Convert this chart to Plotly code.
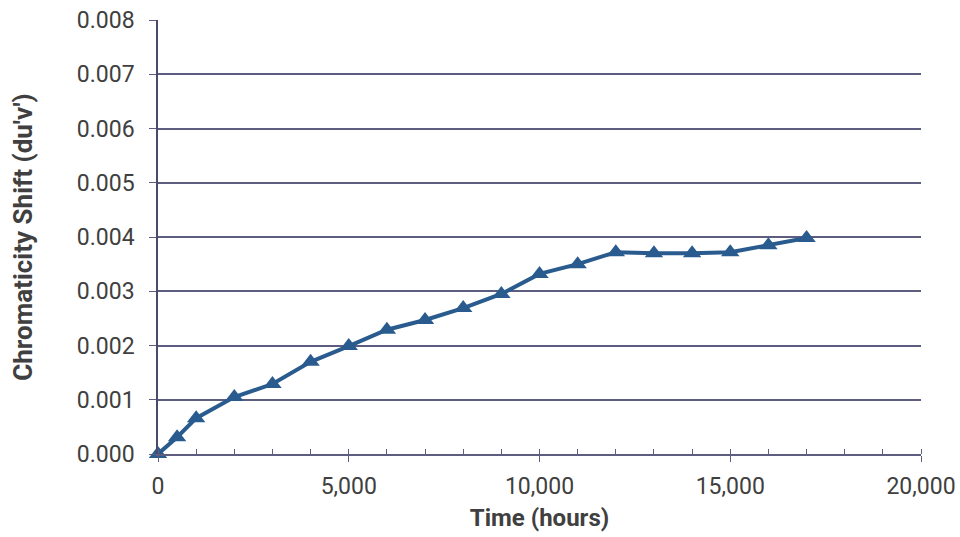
import plotly.graph_objects as go

time_hours = [0, 500, 1000, 2000, 3000, 4000, 5000, 6000, 7000, 8000, 9000,
              10000, 11000, 12000, 13000, 14000, 15000, 16000, 17000]
chroma_shift = [0.0, 0.00031, 0.00066, 0.00105, 0.00129, 0.00170, 0.00199,
                0.00229, 0.00247, 0.00269, 0.00295, 0.00332, 0.00350,
                0.00372, 0.00370, 0.00370, 0.00372, 0.00385, 0.00398]

x_title = "Time (hours)"
y_title = "Chromaticity Shift (du'v')"

line_color = "#2a5b8e"
grid_color = "#5d5d80"
text_color = "#404040"

fig = go.Figure()
fig.add_trace(go.Scatter(
    x=time_hours, y=chroma_shift, mode="lines+markers",
    line=dict(color=line_color, width=4),
    marker=dict(symbol="triangle-up", size=16, color=line_color),
    cliponaxis=False, showlegend=False,
))

fig.update_layout(
    width=960, height=537,
    margin=dict(l=158, r=39, t=20, b=83),
    paper_bgcolor="white", plot_bgcolor="white",
    font=dict(family="Roboto", size=23, color=text_color),
)
fig.update_xaxes(
    range=[0, 20000], tickvals=[0, 5000, 10000, 15000, 20000],
    tickformat=",", showgrid=False, zeroline=False, automargin=False,
    showline=True, linecolor=grid_color, linewidth=1.5,
    ticks="outside", ticklen=6, tickcolor=grid_color, ticklabelstandoff=5,
    minor=dict(dtick=1000, ticks="inside", ticklen=5, tickcolor=grid_color, showgrid=False),
    title=dict(text="<b>" + x_title + "</b>", font=dict(size=24, color=text_color), standoff=10),
)
fig.update_yaxes(
    range=[0, 0.008], dtick=0.001, tickformat=".3f", automargin=False,
    showgrid=True, gridcolor=grid_color, gridwidth=1.5, zeroline=False,
    showline=True, linecolor="#4a4a6a", linewidth=1.5,
    ticks="outside", ticklen=7, tickcolor=grid_color, ticklabelstandoff=10,
    title=dict(text="<b>" + y_title + "</b>", font=dict(size=26, color=text_color), standoff=37),
)

fig.write_html("out.html", config={"displayModeBar": False},
               post_script="document.body.style.margin='0';")
